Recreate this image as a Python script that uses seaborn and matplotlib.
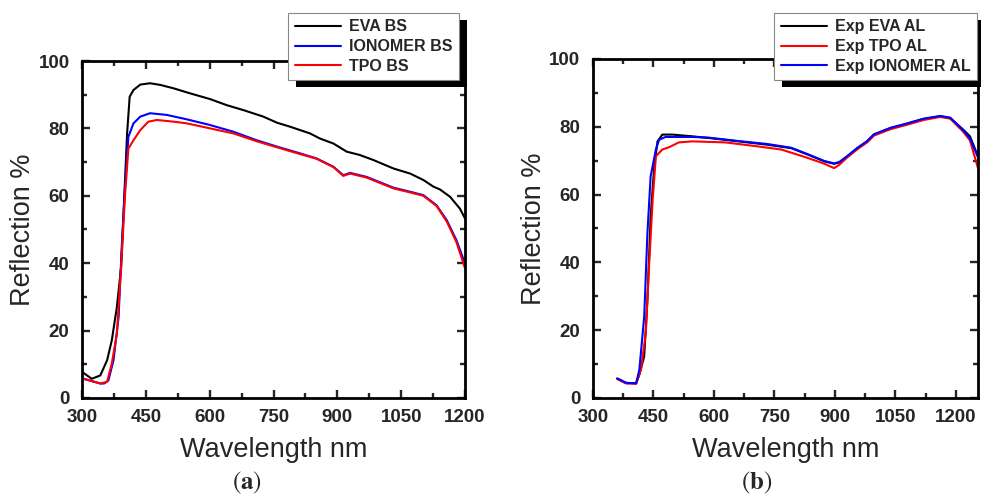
import matplotlib
matplotlib.use("Agg")
import matplotlib.pyplot as plt
from matplotlib.patches import Rectangle
from matplotlib.ticker import MultipleLocator
import seaborn as sns

# ---- panel (a): BS samples ----
wl_eva_bs = [300, 304, 323, 343, 359, 370, 382, 392, 399, 406, 412, 421, 437, 460, 484, 515,
             554, 601, 640, 680, 726, 758, 789, 836, 859, 891, 922, 953, 985, 1032, 1071,
             1102, 1126, 1141, 1165, 1188, 1200]
r_eva_bs = [8.0, 7.4, 5.7, 6.7, 11.2, 17.1, 27.0, 39.0, 58.7, 78.5, 89.4, 91.4, 93.0, 93.4,
            92.9, 91.9, 90.4, 88.7, 86.9, 85.4, 83.5, 81.7, 80.5, 78.5, 77.0, 75.5, 73.1,
            72.1, 70.6, 68.1, 66.6, 64.7, 62.7, 61.9, 59.7, 56.2, 53.3]

wl_ion_bs = [300, 304, 343, 352, 362, 374, 386, 393, 401, 409, 421, 437, 460, 499, 546, 601,
             656, 710, 758, 812, 851, 891, 914, 930, 969, 1032, 1071, 1102, 1133, 1157,
             1180, 1200]
r_ion_bs = [6.0, 5.7, 4.3, 4.3, 5.2, 11.2, 24.0, 43.9, 62.7, 77.5, 81.5, 83.5, 84.5, 84.0,
            82.7, 81.0, 79.0, 76.5, 74.6, 72.6, 71.1, 68.6, 66.1, 66.8, 65.6, 62.4, 61.2,
            60.2, 57.2, 52.8, 46.8, 39.9]

wl_tpo_bs = [300, 304, 343, 359, 370, 382, 392, 401, 409, 421, 437, 456, 476, 515, 546, 601,
             656, 710, 758, 812, 851, 891, 914, 930, 969, 1032, 1071, 1102, 1133, 1157,
             1180, 1200]
r_tpo_bs = [6.0, 5.7, 4.3, 4.8, 10.2, 19.1, 38.9, 60.0, 74.0, 76.5, 79.5, 82.0, 82.5, 82.0,
            81.5, 80.0, 78.5, 76.2, 74.4, 72.4, 71.0, 68.5, 65.9, 66.6, 65.4, 62.2, 61.0,
            60.0, 57.0, 52.4, 46.2, 38.5]

# ---- panel (b): AL samples ----
wl_eva_al = [360, 382, 407, 415, 427, 435, 443, 452, 460, 472, 497, 546, 587, 661, 734, 792,
             833, 874, 898, 911, 931, 956, 980, 997, 1038, 1079, 1120, 1161, 1186, 1218,
             1235, 1255]
r_eva_al = [5.7, 4.4, 4.4, 6.9, 12.3, 29.0, 53.6, 68.3, 75.7, 77.7, 77.7, 77.2, 76.7, 75.7,
            74.7, 73.7, 71.8, 69.8, 69.1, 69.5, 71.3, 73.7, 75.7, 77.7, 79.6, 80.9, 82.3,
            83.1, 82.6, 79.2, 77.2, 71.3]

wl_tpo_al = [360, 382, 407, 419, 431, 439, 448, 456, 472, 489, 513, 546, 628, 710, 767, 833,
             874, 898, 911, 931, 956, 980, 997, 1038, 1079, 1120, 1161, 1186, 1218, 1235,
             1255]
r_tpo_al = [5.6, 4.3, 4.2, 8.4, 19.2, 38.8, 58.5, 71.3, 73.3, 74.0, 75.4, 75.7, 75.4, 74.2,
            73.3, 70.8, 69.1, 67.8, 68.8, 71.0, 73.4, 75.4, 77.4, 79.3, 80.6, 82.0, 82.9,
            82.4, 78.6, 76.0, 67.8]

wl_ion_al = [360, 382, 407, 415, 427, 435, 443, 456, 464, 480, 546, 587, 661, 734, 792, 833,
             874, 898, 911, 931, 956, 980, 997, 1038, 1079, 1120, 1161, 1186, 1218, 1235,
             1255]
r_ion_al = [5.8, 4.5, 4.3, 8.4, 24.0, 48.7, 65.4, 73.3, 76.2, 77.0, 77.0, 76.8, 75.8, 74.9,
            73.8, 71.9, 69.9, 69.2, 69.6, 71.4, 73.8, 75.8, 77.8, 79.7, 81.0, 82.4, 83.2,
            82.7, 79.0, 76.6, 71.0]

sns.set_theme(style="ticks")
plt.rcParams["font.family"] = ["Liberation Sans", "DejaVu Sans"]
plt.rcParams["mathtext.fontset"] = "stix"

fig = plt.figure(figsize=(9.81, 4.98), dpi=100)
W, H = 981, 498


def px_axes(l, t, r, b):
    return fig.add_axes([l / W, 1 - b / H, (r - l) / W, (b - t) / H])


ax1 = px_axes(82, 61, 465, 398)
ax2 = px_axes(593, 59, 978, 398)

sns.lineplot(x=wl_eva_bs, y=r_eva_bs, color="black", lw=1.5, label="EVA BS", ax=ax1)
sns.lineplot(x=wl_ion_bs, y=r_ion_bs, color="blue", lw=1.5, label="IONOMER BS", ax=ax1)
sns.lineplot(x=wl_tpo_bs, y=r_tpo_bs, color="red", lw=1.5, label="TPO BS", ax=ax1)

sns.lineplot(x=wl_eva_al, y=r_eva_al, color="black", lw=1.5, label="Exp EVA AL", ax=ax2)
sns.lineplot(x=wl_tpo_al, y=r_tpo_al, color="red", lw=1.5, label="Exp TPO AL", ax=ax2)
sns.lineplot(x=wl_ion_al, y=r_ion_al, color="blue", lw=1.5, label="Exp IONOMER AL", ax=ax2)

ax1.set_xlim(300, 1200)
ax2.set_xlim(300, 1255)

legends = []
for ax, anchor in [(ax1, 459), (ax2, 977)]:
    ax.set_ylim(0, 100)
    ax.xaxis.set_major_locator(MultipleLocator(150))
    ax.xaxis.set_minor_locator(MultipleLocator(75))
    ax.yaxis.set_major_locator(MultipleLocator(20))
    ax.yaxis.set_minor_locator(MultipleLocator(10))
    ax.tick_params(which="both", direction="in", top=True, right=True, width=1.7)
    ax.tick_params(which="major", length=5.5)
    ax.tick_params(which="minor", length=3.5)
    ax.tick_params(axis="x", which="major", pad=8)
    ax.tick_params(axis="y", which="major", pad=9)
    for lab in ax.get_xticklabels() + ax.get_yticklabels():
        lab.set_fontweight("bold")
        lab.set_fontsize(13.5)
    for sp in ax.spines.values():
        sp.set_linewidth(2.0)
        sp.set_color("black")
    ax.set_xlabel("Wavelength nm", fontsize=19.5, labelpad=8)
    ax.set_ylabel("Reflection %", fontsize=19.5, labelpad=2)

    leg = ax.legend(loc="upper right", bbox_to_anchor=(anchor / W, 1 - 13 / H),
                    bbox_transform=fig.transFigure, borderaxespad=0, fancybox=False,
                    framealpha=1, edgecolor="#888888", prop={"weight": "bold", "size": 11.5},
                    handlelength=2.9, handletextpad=0.5, labelspacing=0.3,
                    borderpad=0.4)
    leg.get_frame().set_linewidth(0.8)
    for line in leg.get_lines():
        line.set_linewidth(1.5)
    legends.append((ax, leg))

# Origin-style solid black drop shadow behind each legend
fig.canvas.draw()
for ax, leg in legends:
    bb = leg.get_window_extent().transformed(fig.transFigure.inverted())
    shadow = Rectangle((bb.x0 + 8 / W, bb.y0 - 7 / H), bb.width, bb.height,
                       transform=fig.transFigure, facecolor="black", edgecolor="none",
                       clip_on=False, zorder=4.5)
    ax.add_artist(shadow)

fig.text(247 / W, 1 - 483 / H, r"$(\mathbf{a})$", ha="center", va="center", fontsize=18)
fig.text(757 / W, 1 - 483 / H, r"$(\mathbf{b})$", ha="center", va="center", fontsize=18)

fig.savefig("out.png", dpi=100)
